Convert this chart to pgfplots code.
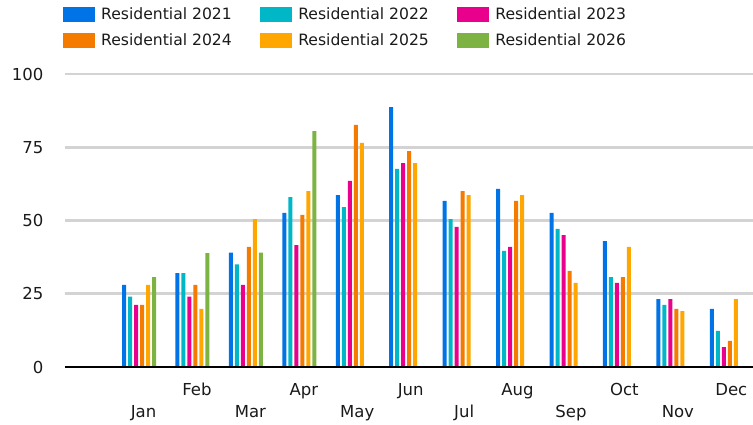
\documentclass[border=0pt]{standalone}
\usepackage{fontspec}
\setmainfont{DejaVu Sans}
\usepackage{pgfplots}
\pgfplotsset{compat=1.18}

\definecolor{r21}{HTML}{0073E6}
\definecolor{r22}{HTML}{00B7C7}
\definecolor{r23}{HTML}{E9008C}
\definecolor{r24}{HTML}{F47A00}
\definecolor{r25}{HTML}{FFA600}
\definecolor{r26}{HTML}{7CB342}
\definecolor{gridgray}{RGB}{211,211,211}
\definecolor{textc}{HTML}{1A1A1A}

\begin{document}
\begin{tikzpicture}
\begin{axis}[
    scale only axis,
    width=688pt, height=293pt,
    ybar=2pt, bar width=4pt,
    xmin=-0.385, xmax=12.49,
    ymin=0, ymax=100,
    ytick={0,25,50,75,100},
    ymajorgrids,
    major grid style={draw=gridgray, line width=2.6pt},
    axis line style={draw=none},
    tick style={draw=none},
    xtick={2,4,6,8,10,12},
    xticklabels={Feb,Apr,Jun,Aug,Oct,Dec},
    extra x ticks={1,3,5,7,9,11},
    extra x tick labels={Jan,Mar,May,Jul,Sep,Nov},
    xticklabel style={anchor=base, inner sep=0pt, yshift=-24.7pt, xshift=4.5pt},
    extra x tick style={xticklabel style={yshift=-21.8pt}},
    yticklabel style={anchor=east, inner sep=0pt, xshift=-21.5pt},
    /pgf/number format/assume math mode=true,
    ticklabel style={font=\fontsize{16.5}{19}\selectfont, text=textc},
    legend style={draw=none, fill=none, inner sep=0pt,
        at={(-0.0029,1.2287)}, anchor=north west,
        font=\fontsize{15.6}{18}\selectfont, text=textc,
        nodes={inner sep=0pt, text height=12pt, text depth=3pt},
        /tikz/every odd column/.append style={column sep=6pt},
        /tikz/every even column/.append style={column sep=28.5pt},
        row sep=10.7pt},
    legend columns=3,
    legend cell align=left,
    legend image code/.code={\fill[#1] (0pt,-7.2pt) rectangle (32pt,7.8pt);},
]
\addplot[fill=r21, draw=none] coordinates {
    (1,28) (2,32) (3,39) (4,52.6) (5,58.7) (6,88.7)
    (7,56.7) (8,60.8) (9,52.6) (10,43) (11,23.2) (12,19.8)};
\addplot[fill=r22, draw=none] coordinates {
    (1,24) (2,32) (3,35) (4,58) (5,54.6) (6,67.6)
    (7,50.5) (8,39.6) (9,47.1) (10,30.7) (11,21.2) (12,12.3)};
\addplot[fill=r23, draw=none] coordinates {
    (1,21.2) (2,24) (3,28) (4,41.6) (5,63.5) (6,69.6)
    (7,47.8) (8,41) (9,45) (10,28.7) (11,23.2) (12,6.8)};
\addplot[fill=r24, draw=none] coordinates {
    (1,21.2) (2,28) (3,41) (4,51.9) (5,82.6) (6,73.7)
    (7,60) (8,56.7) (9,32.8) (10,30.7) (11,19.8) (12,8.9)};
\addplot[fill=r25, draw=none] coordinates {
    (1,28) (2,19.8) (3,50.5) (4,60) (5,76.5) (6,69.6)
    (7,58.7) (8,58.7) (9,28.7) (10,41) (11,19.1) (12,23.2)};
\addplot[fill=r26, draw=none] coordinates {
    (1,30.7) (2,38.9) (3,39) (4,80.5)};
\legend{Residential 2021, Residential 2022, Residential 2023,
        Residential 2024, Residential 2025, Residential 2026}
\draw[black, line width=3pt] (rel axis cs:0,0) -- (rel axis cs:1,0);
\end{axis}
\pgfresetboundingbox
\path (-65pt,-57pt) rectangle (688pt,367pt);
\end{tikzpicture}
\end{document}
